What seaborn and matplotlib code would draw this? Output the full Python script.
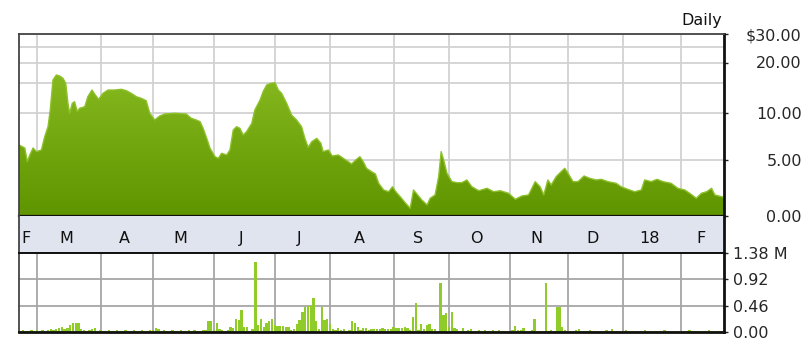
import numpy as np
import pandas as pd
import matplotlib
matplotlib.use("Agg")
import matplotlib.pyplot as plt
import matplotlib.transforms as mtransforms
from matplotlib.patches import Polygon
from matplotlib.colors import LinearSegmentedColormap
import seaborn as sns

# price trace (x = trading day index, 0 = Feb 21 2017)
price_day = [-0.5, 1.6, 2.5, 3.4, 4.6, 5.8, 7.6, 8.8, 10.0, 10.8,
             11.8, 13.0, 14.2, 15.4, 16.4, 17.2, 17.8, 18.8, 19.6, 20.6,
             21.4, 23.3, 24.4, 25.9, 27.1, 28.3, 29.9, 31.7, 34.1, 36.5,
             38.3, 40.1, 41.9, 43.7, 45.5, 46.8, 48.6, 50.4, 52.2, 55.8,
             60.0, 61.8, 63.6, 65.0, 66.1, 67.4, 68.6, 70.4, 71.6, 72.8,
             74.6, 75.8, 77.0, 78.2, 79.4, 80.6, 81.8, 83.7, 84.8, 86.7,
             87.8, 89.1, 90.6, 92.1, 93.3, 94.5, 96.3, 98.1, 99.9, 101.7,
             102.9, 104.1, 105.4, 107.2, 108.7, 109.5, 111.4, 112.8, 115.0, 116.8,
             118.6, 119.8, 121.3, 122.8, 124.0, 125.2, 127.0, 128.4, 129.6, 131.4,
             133.2, 134.6, 135.8, 137.4, 139.2, 141.0, 142.2, 143.4, 145.2, 147.1,
             148.2, 150.0, 151.3, 152.2, 153.1, 154.3, 156.1, 157.9, 159.7, 161.5,
             163.3, 165.8, 168.8, 171.2, 173.6, 176.6, 179.0, 181.4, 183.8, 186.2,
             188.0, 189.3, 190.8, 192.0, 193.8, 195.6, 196.9, 198.1, 199.9, 201.7,
             203.9, 205.9, 208.3, 210.1, 212.5, 215.5, 217.3, 219.7, 222.2, 224.6,
             225.8, 228.2, 230.3, 232.4, 235.4, 237.8, 240.3, 242.1, 244.5, 246.3,
             248.2, 250.0, 251.2, 254.5]
price = [6.59, 6.27, 4.85, 5.53, 6.27, 5.88, 6.06, 7.46, 8.52, 10.45,
         15.67, 16.90, 16.66, 16.09, 14.90, 11.57, 9.94, 11.57, 11.83, 10.17,
         10.73, 11.00, 12.67, 13.78, 12.95, 12.23, 13.23, 13.78, 13.78, 13.90,
         13.67, 13.23, 12.67, 12.40, 12.00, 9.94, 9.23, 9.65, 9.86, 9.94,
         9.86, 9.41, 9.23, 9.05, 8.35, 7.29, 6.24, 5.35, 5.18, 5.71,
         5.53, 6.06, 8.17, 8.52, 8.35, 7.64, 7.99, 8.88, 10.45, 12.12,
         13.50, 14.62, 14.90, 15.00, 13.78, 13.23, 11.57, 9.75, 9.23, 8.52,
         7.29, 6.34, 6.93, 7.29, 6.77, 5.88, 6.06, 5.42, 5.53, 5.18,
         4.85, 4.64, 5.00, 5.35, 4.85, 4.25, 3.95, 3.74, 2.90, 2.30,
         2.14, 2.59, 2.14, 1.69, 1.15, 0.65, 2.30, 1.94, 1.40, 0.95,
         1.55, 1.85, 3.50, 5.88, 5.00, 3.80, 3.05, 2.96, 2.96, 3.20,
         2.59, 2.23, 2.45, 2.14, 2.23, 2.00, 1.46, 1.76, 1.85, 3.05,
         2.59, 1.85, 3.20, 2.75, 3.50, 3.95, 4.25, 3.80, 3.05, 3.05,
         3.56, 3.35, 3.20, 3.26, 3.05, 2.90, 2.59, 2.36, 2.14, 2.30,
         3.20, 3.05, 3.26, 3.05, 2.90, 2.45, 2.30, 2.00, 1.55, 2.00,
         2.14, 2.45, 1.85, 1.64]

# daily volume, millions (one value per trading day)
volume = [0.02, 0.03, 0.02, 0.02, 0.03, 0.02, 0.03, 0.02, 0.03, 0.02, 0.03, 0.04, 0.03, 0.05, 0.06,
          0.08, 0.05, 0.07, 0.12, 0.15, 0.16, 0.16, 0.04, 0.03, 0.02, 0.03, 0.04, 0.06, 0.02, 0.03,
          0.02, 0.02, 0.03, 0.02, 0.02, 0.03, 0.02, 0.02, 0.03, 0.02, 0.02, 0.03, 0.02, 0.02, 0.03,
          0.02, 0.02, 0.03, 0.03, 0.06, 0.04, 0.02, 0.03, 0.02, 0.02, 0.03, 0.02, 0.02, 0.03, 0.02,
          0.02, 0.03, 0.02, 0.03, 0.02, 0.02, 0.03, 0.03, 0.19, 0.19, 0.03, 0.16, 0.05, 0.03, 0.02,
          0.03, 0.08, 0.06, 0.22, 0.20, 0.39, 0.08, 0.08, 0.02, 0.05, 1.23, 0.12, 0.22, 0.08, 0.15,
          0.18, 0.22, 0.12, 0.10, 0.10, 0.10, 0.08, 0.08, 0.03, 0.05, 0.13, 0.20, 0.34, 0.43, 0.45,
          0.45, 0.60, 0.18, 0.05, 0.43, 0.20, 0.22, 0.13, 0.05, 0.03, 0.06, 0.03, 0.04, 0.02, 0.03,
          0.19, 0.15, 0.08, 0.03, 0.07, 0.07, 0.03, 0.05, 0.05, 0.04, 0.05, 0.07, 0.05, 0.04, 0.05,
          0.08, 0.07, 0.07, 0.06, 0.08, 0.07, 0.03, 0.25, 0.50, 0.03, 0.13, 0.05, 0.12, 0.14, 0.05,
          0.05, 0.02, 0.86, 0.30, 0.33, 0.08, 0.34, 0.06, 0.04, 0.02, 0.06, 0.02, 0.03, 0.04, 0.02,
          0.02, 0.03, 0.02, 0.03, 0.02, 0.02, 0.03, 0.02, 0.03, 0.02, 0.02, 0.02, 0.02, 0.03, 0.10,
          0.03, 0.03, 0.06, 0.02, 0.02, 0.03, 0.22, 0.02, 0.02, 0.02, 0.85, 0.02, 0.03, 0.02, 0.43,
          0.43, 0.08, 0.03, 0.02, 0.02, 0.02, 0.03, 0.05, 0.02, 0.02, 0.02, 0.03, 0.02, 0.02, 0.02,
          0.02, 0.02, 0.03, 0.02, 0.05, 0.02, 0.02, 0.02, 0.02, 0.03, 0.02, 0.02, 0.02, 0.02, 0.02,
          0.02, 0.03, 0.02, 0.02, 0.02, 0.02, 0.02, 0.02, 0.03, 0.02, 0.02, 0.02, 0.02, 0.02, 0.02,
          0.02, 0.02, 0.03, 0.02, 0.02, 0.02, 0.02, 0.02, 0.02, 0.03, 0.02, 0.02, 0.02, 0.02, 0.02]

month_labels = ["F", "M", "A", "M", "J", "J", "A", "S", "O", "N", "D", "18", "F"]
month_start = [0, 6, 29, 48, 70, 92, 112, 135, 155, 177, 198, 218, 239]
n_days = len(volume)

price_ticks = [0, 5, 10, 20, 30]
price_ticklabels = ["0.00", "5.00", "10.00", "20.00", "$30.00"]
price_minor = [15, 25]
vol_ticks = [0, 0.46, 0.92, 1.38]
vol_ticklabels = ["0.00", "0.46", "0.92", "1.38 M"]

# the price axis is compressed at the top (roughly logarithmic)
scale_vals = [0, 5, 10, 15, 20, 25, 30]
scale_pos = [0, 55.5, 102.8, 132.8, 153.0, 168.8, 181.2]


def fwd(v):
    return np.interp(v, scale_vals, scale_pos)


def inv(p):
    return np.interp(p, scale_pos, scale_vals)


sns.set_style("white")
plt.rcParams["font.family"] = ["DejaVu Sans"]
fs = 11.5

W, H = 806, 341
fig = plt.figure(figsize=(W / 100, H / 100), dpi=100)


def box(x0, y0, x1, y1):
    return [x0 / W, 1 - y1 / H, (x1 - x0) / W, (y1 - y0) / H]


ax = fig.add_axes(box(19, 34.3, 724, 215.5))
band = fig.add_axes(box(19, 215.5, 724, 253.3))
axv = fig.add_axes(box(19, 253.3, 724, 331.7))

xlim = (-0.5, n_days - 0.5)
grid_light = "#d2d2d2"
grid_dark = "#a6a6a6"

# --- price panel ---
ax.set_yscale("function", functions=(fwd, inv))
grad = np.linspace(0, 1, 256).reshape(-1, 1)
cmap = LinearSegmentedColormap.from_list("grn", ["#5f9500", "#92c328"])
im = ax.imshow(grad, extent=[0, 1, 0, 1], transform=ax.transAxes, origin="lower",
               cmap=cmap, aspect="auto", zorder=1, interpolation="bilinear")
verts = [(price_day[0], 0)] + list(zip(price_day, price)) + [(price_day[-1], 0)]
poly = Polygon(verts, closed=True, transform=ax.transData, fc="none", ec="none")
ax.add_patch(poly)
im.set_clip_path(poly)
sns.lineplot(x=price_day, y=price, ax=ax, color="#8dc12c", lw=1.0, zorder=2)

ax.set_xlim(*xlim)
ax.set_ylim(0, 30)
ax.set_xticks(month_start[1:])
ax.tick_params(axis="x", length=0, labelbottom=False)
ax.yaxis.tick_right()
ax.set_yticks(price_ticks)
ax.set_yticklabels(price_ticklabels, ha="right")
ax.set_yticks(price_minor, minor=True)
ax.tick_params(axis="y", which="major", direction="out", length=3, width=1,
               color="#222222", pad=53, labelsize=fs)
ax.tick_params(axis="y", which="minor", length=0)
ax.set_axisbelow(True)
ax.grid(True, which="both", color=grid_light, lw=1.3)
for s in ["top", "left"]:
    ax.spines[s].set_color("#444444")
    ax.spines[s].set_linewidth(1.3)
ax.spines["bottom"].set_color("#111111")
ax.spines["bottom"].set_linewidth(1.6)
ax.spines["right"].set_color("#111111")
ax.spines["right"].set_linewidth(2)

# --- month band ---
band.set_facecolor("#dfe4ee")
band.set_xlim(*xlim)
band.set_ylim(0, 1)
band.set_xticks([])
band.set_yticks([])
for s in ["left", "bottom"]:
    band.spines[s].set_color("#444444")
    band.spines[s].set_linewidth(1.3)
band.spines["top"].set_visible(False)
band.spines["right"].set_color("#111111")
band.spines["right"].set_linewidth(2)
bounds = month_start + [n_days]
trans = mtransforms.blended_transform_factory(band.transData, band.transAxes)
for i, lab in enumerate(month_labels):
    mid = (bounds[i] + bounds[i + 1]) / 2 - 1
    band.text(mid, 0.4, lab, transform=trans, ha="center", va="center",
              fontsize=fs, color="#111111")

# --- volume panel ---
sns.barplot(x=list(range(n_days)), y=volume, native_scale=True, ax=axv,
            color="#8fcc2a", saturation=1, width=0.85, linewidth=0,
            errorbar=None, zorder=2)
axv.set_xlim(*xlim)
axv.set_ylim(0, 1.38)
axv.set_xticks(month_start[1:])
axv.tick_params(axis="x", length=0, labelbottom=False)
axv.set_xlabel("")
axv.yaxis.tick_right()
axv.set_yticks(vol_ticks)
axv.set_yticklabels(vol_ticklabels, ha="left")
axv.tick_params(axis="y", direction="out", length=3, width=1, color="#222222",
                pad=3.5, labelsize=fs)
axv.set_axisbelow(True)
axv.grid(True, color=grid_dark, lw=1.3)
axv.spines["left"].set_color("#444444")
axv.spines["left"].set_linewidth(1.3)
for s in ["bottom", "right"]:
    axv.spines[s].set_color("#111111")
    axv.spines[s].set_linewidth(2)
axv.spines["top"].set_color("#111111")
axv.spines["top"].set_linewidth(1.4)

fig.text(722 / W, 1 - 20 / H, "Daily", ha="right", va="center", fontsize=fs,
         color="#111111")

fig.savefig("out.png", dpi=100)
